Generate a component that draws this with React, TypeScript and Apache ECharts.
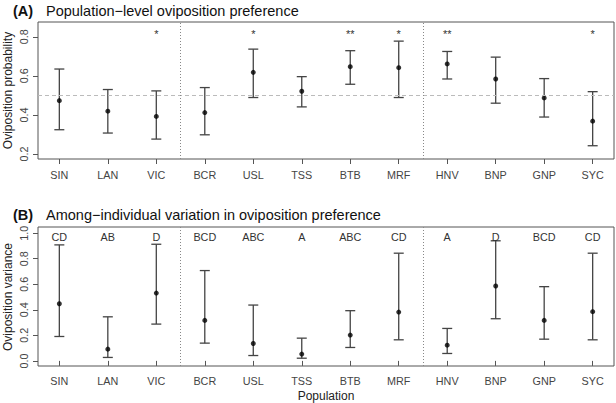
import React, { useEffect, useRef } from "react";
import * as echarts from "echarts";

const categories = ["SIN", "LAN", "VIC", "BCR", "USL", "TSS", "BTB", "MRF", "HNV", "BNP", "GNP", "SYC"];
const prefMean = [0.473, 0.419, 0.392, 0.412, 0.618, 0.521, 0.647, 0.642, 0.661, 0.584, 0.487, 0.368];
const prefUpper = [0.635, 0.53, 0.523, 0.54, 0.737, 0.596, 0.729, 0.778, 0.725, 0.696, 0.586, 0.519];
const prefLower = [0.324, 0.307, 0.276, 0.298, 0.489, 0.441, 0.557, 0.489, 0.584, 0.46, 0.389, 0.242];
const prefSig = ["", "", "*", "", "*", "", "**", "*", "**", "", "", "*"];
const varMean = [0.447, 0.092, 0.531, 0.317, 0.136, 0.053, 0.202, 0.382, 0.123, 0.586, 0.317, 0.385];
const varUpper = [0.908, 0.345, 0.913, 0.707, 0.437, 0.178, 0.393, 0.843, 0.254, 0.94, 0.581, 0.843];
const varLower = [0.191, 0.027, 0.288, 0.139, 0.042, 0.021, 0.105, 0.165, 0.058, 0.33, 0.17, 0.165];
const varLetters = ["CD", "AB", "D", "BCD", "ABC", "A", "ABC", "CD", "A", "D", "BCD", "CD"];
const prefTicks = [0.2, 0.4, 0.6, 0.8];
const varTicks = [0, 0.2, 0.4, 0.6, 0.8, 1.0];
const groupBreaks = [3.5, 8.5];
const prefReference = 0.5;
const prefSigLevel = 0.815;
const varLetterLevel = 0.972;

const FONT = "Liberation Sans, Arial, Helvetica, sans-serif";
const positions = categories.map((_, i) => i + 1);

function errorBarSeries(lower: number[], upper: number[], axisIndex: number) {
  return {
    type: "custom",
    xAxisIndex: axisIndex,
    yAxisIndex: axisIndex,
    silent: true,
    encode: { x: 0, y: [1, 2] },
    data: positions.map((p, i) => [p, lower[i], upper[i]]),
    renderItem: (params: any, api: any) => {
      const x = api.value(0);
      const lo = api.coord([x, api.value(1)]);
      const hi = api.coord([x, api.value(2)]);
      const w = 5;
      const style = { stroke: "#444", lineWidth: 1.3 };
      return {
        type: "group",
        children: [
          { type: "line", shape: { x1: lo[0], y1: lo[1], x2: hi[0], y2: hi[1] }, style },
          { type: "line", shape: { x1: lo[0] - w, y1: lo[1], x2: lo[0] + w, y2: lo[1] }, style },
          { type: "line", shape: { x1: hi[0] - w, y1: hi[1], x2: hi[0] + w, y2: hi[1] }, style },
        ],
      };
    },
  };
}

function textSeries(labels: string[], level: number, axisIndex: number, size: number) {
  return {
    type: "custom",
    xAxisIndex: axisIndex,
    yAxisIndex: axisIndex,
    silent: true,
    encode: { x: 0, y: 1 },
    data: positions.map((p, i) => [p, level, labels[i]]),
    renderItem: (params: any, api: any) => {
      const pt = api.coord([api.value(0), api.value(1)]);
      const txt = labels[params.dataIndex];
      return {
        type: "text",
        x: pt[0],
        y: pt[1],
        style: {
          text: txt,
          textAlign: "center",
          textVerticalAlign: "middle",
          fontSize: size,
          fontFamily: FONT,
          fill: "#333",
        },
      };
    },
  };
}

function meanSeries(values: number[], axisIndex: number, withRef: boolean) {
  const lines: any[] = groupBreaks.map((b) => ({
    xAxis: b,
    lineStyle: { type: [1, 2], color: "#888", width: 1 },
  }));
  if (withRef) {
    lines.unshift({ yAxis: prefReference, lineStyle: { type: [4, 3], color: "#bbb", width: 1 } });
  }
  return {
    type: "scatter",
    xAxisIndex: axisIndex,
    yAxisIndex: axisIndex,
    silent: true,
    symbol: "circle",
    symbolSize: 5,
    itemStyle: { color: "#000" },
    data: positions.map((p, i) => [p, values[i]]),
    markLine: {
      silent: true,
      symbol: ["none", "none"],
      label: { show: false },
      animation: false,
      data: lines,
    },
  };
}

function xAxisDef(gridIndex: number, margin: number) {
  return {
    type: "value",
    gridIndex,
    min: 0.56,
    max: 12.44,
    axisLine: { show: false },
    splitLine: { show: false },
    axisTick: { show: true, customValues: positions, length: 5, lineStyle: { color: "#555" } },
    axisLabel: {
      customValues: positions,
      formatter: (v: number) => categories[Math.round(v) - 1] ?? "",
      fontSize: 10.8,
      fontFamily: FONT,
      color: "#444",
      margin,
    },
  };
}

function yAxisDef(gridIndex: number, min: number, max: number, ticks: number[]) {
  return {
    type: "value",
    gridIndex,
    min,
    max,
    axisLine: { show: false },
    splitLine: { show: false },
    axisTick: { show: true, customValues: ticks, length: 5, lineStyle: { color: "#555" } },
    axisLabel: {
      customValues: ticks,
      rotate: 90,
      formatter: (v: number) => v.toFixed(1),
      fontSize: 10.8,
      fontFamily: FONT,
      color: "#444",
      margin: 9,
    },
  };
}

export default function App() {
  const ref = useRef<HTMLDivElement>(null);
  useEffect(() => {
    if (!ref.current) return;
    const chart = echarts.init(ref.current, null, { renderer: "svg" });
    const titleStyle = { fontSize: 14.5, fontFamily: FONT, fill: "#111", textVerticalAlign: "middle" };
    chart.setOption({
      animation: false,
      backgroundColor: "#fff",
      grid: [
        { left: 38, right: 2, top: 22, height: 137, show: true, borderColor: "#555", borderWidth: 1, backgroundColor: "transparent" },
        { left: 38, right: 2, top: 227, height: 139, show: true, borderColor: "#555", borderWidth: 1, backgroundColor: "transparent" },
      ],
      xAxis: [xAxisDef(0, 10), xAxisDef(1, 9)],
      yAxis: [yAxisDef(0, 0.174, 0.876, prefTicks), yAxisDef(1, -0.04, 1.048, varTicks)],
      graphic: [
        { type: "text", x: 13, y: 11, style: { ...titleStyle, text: "(A)", fontWeight: "bold" } },
        { type: "text", x: 46, y: 11, style: { ...titleStyle, text: "Population\u2212level oviposition preference" } },
        { type: "text", x: 13, y: 215, style: { ...titleStyle, text: "(B)", fontWeight: "bold" } },
        { type: "text", x: 46, y: 215, style: { ...titleStyle, text: "Among\u2212individual variation in oviposition preference" } },
        {
          type: "text", x: 8, y: 90.5, rotation: Math.PI / 2,
          style: { text: "Oviposition probability", fontSize: 12, fontFamily: FONT, fill: "#222", textAlign: "center", textVerticalAlign: "middle" },
        },
        {
          type: "text", x: 8, y: 297, rotation: Math.PI / 2,
          style: { text: "Oviposition variance", fontSize: 12, fontFamily: FONT, fill: "#222", textAlign: "center", textVerticalAlign: "middle" },
        },
        {
          type: "text", x: 326, y: 396,
          style: { text: "Population", fontSize: 12, fontFamily: FONT, fill: "#222", textAlign: "center", textVerticalAlign: "middle" },
        },
      ],
      series: [
        errorBarSeries(prefLower, prefUpper, 0),
        meanSeries(prefMean, 0, true),
        textSeries(prefSig, prefSigLevel, 0, 11),
        errorBarSeries(varLower, varUpper, 1),
        meanSeries(varMean, 1, false),
        textSeries(varLetters, varLetterLevel, 1, 10.8),
      ],
    });
    return () => chart.dispose();
  }, []);
  return <div ref={ref} style={{ position: "fixed", left: 0, top: 0, width: 616, height: 403 }} />;
}
